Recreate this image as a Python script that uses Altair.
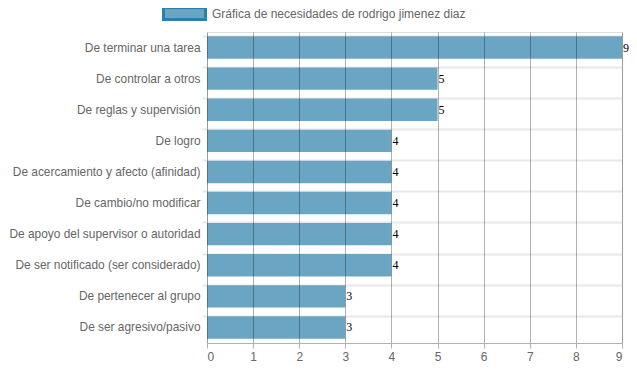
import altair as alt
import pandas as pd

categorias = [
    "De terminar una tarea",
    "De controlar a otros",
    "De reglas y supervisión",
    "De logro",
    "De acercamiento y afecto (afinidad)",
    "De cambio/no modificar",
    "De apoyo del supervisor o autoridad",
    "De ser notificado (ser considerado)",
    "De pertenecer al grupo",
    "De ser agresivo/pasivo",
]
valores = [9, 5, 5, 4, 4, 4, 4, 4, 3, 3]
serie = "Gráfica de necesidades de rodrigo jimenez diaz"

df = pd.DataFrame({"cat": categorias, "val": valores, "serie": [serie] * len(valores)})

FONT = "Liberation Sans"
GREY = "#666666"

y_enc = alt.Y(
    "cat:N",
    sort=None,
    title=None,
    scale=alt.Scale(paddingInner=0.28, paddingOuter=0.14),
    axis=alt.Axis(
        domain=False,
        grid=True,
        gridColor="#e8e8e8",
        gridWidth=2,
        bandPosition=0,
        tickColor="#e8e8e8",
        tickSize=5,
        tickWidth=2,
        labelColor=GREY,
        labelFont=FONT,
        labelFontSize=11.9,
        labelPadding=2,
        labelLimit=300,
    ),
)

x_enc = alt.X(
    "val:Q",
    title=None,
    scale=alt.Scale(domain=[0, 9], nice=False),
    axis=alt.Axis(
        values=list(range(10)),
        grid=True,
        gridColor="#000000",
        gridOpacity=0.3,
        domainColor="#b0b0b0",
        tickColor="#b0b0b0",
        tickSize=5,
        labelColor=GREY,
        labelFont=FONT,
        labelFontSize=12,
        labelPadding=3,
        format="d",
        zindex=1,
    ),
)

bars = alt.Chart(df).mark_bar(opacity=1).encode(
    x=x_enc,
    y=y_enc,
    color=alt.Color(
        "serie:N",
        title=None,
        scale=alt.Scale(range=["#6aa6c4"]),
        legend=alt.Legend(
            orient="none",
            legendX=-45,
            legendY=-41,
            padding=0,
            symbolType="M-1,-0.28H1V0.28H-1Z",
            symbolSize=1764,
            symbolStrokeColor="#2a80ab",
            symbolStrokeWidth=3,
            symbolOpacity=1,
            labelColor=GREY,
            labelFont=FONT,
            labelFontSize=12,
            labelOffset=5,
            labelLimit=400,
        ),
    ),
)

labels = alt.Chart(df).mark_text(
    align="left", baseline="middle", dx=1, font="Liberation Serif", fontSize=12, color="#000000"
).encode(
    x=alt.X("val:Q"),
    y=alt.Y("cat:N", sort=None),
    text=alt.Text("val:Q"),
)

chart = (
    alt.layer(bars, labels)
    .properties(
        width=415,
        height=311,
        autosize=alt.AutoSizeParams(type="none"),
        padding={"left": 199, "top": 24, "right": 7, "bottom": 19},
    )
    .configure_view(stroke=None)
    .configure(background="white")
)

chart.save("out.html", embed_options={"renderer": "svg", "actions": False})
